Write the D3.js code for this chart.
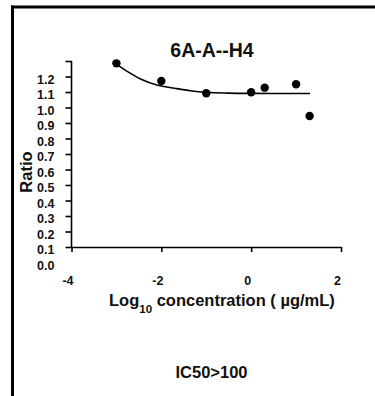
<!DOCTYPE html>
<html>
<head>
<meta charset="utf-8">
<script src="https://cdn.jsdelivr.net/npm/d3@7"></script>
<style>
  html, body { margin: 0; padding: 0; background: #fff; }
  svg { display: block; font-family: "Liberation Sans", Arial, sans-serif; }
</style>
</head>
<body>
<div id="chart"></div>
<script>
// measured points (log10 conc vs ratio)
const logConc = [-3, -2, -1, 0, 0.301, 1, 1.301];
const ratio = [1.285, 1.171, 1.092, 1.098, 1.128, 1.150, 0.945];

// fitted curve
const fitX = [-3.0, -2.75, -2.45, -2.1, -1.7, -1.35, -1.0, -0.5, 0, 0.5, 1.0, 1.31];
const fitY = [1.28, 1.231, 1.182, 1.145, 1.124, 1.108, 1.098, 1.093, 1.091, 1.090, 1.090, 1.090];

const xTicks = [-4, -2, 0, 2];
const yTicks = [0.0, 0.1, 0.2, 0.3, 0.4, 0.5, 0.6, 0.7, 0.8, 0.9, 1.0, 1.1, 1.2, 1.3];

const chartTitle = "6A-A--H4";
const note = "IC50>100";

const width = 375, height = 396;

const svg = d3.select('#chart')
  .append('svg')
  .attr('width', width)
  .attr('height', height);

// frame lines (top + left)
svg.append('line')
  .attr('x1', 11).attr('x2', width).attr('y1', 7).attr('y2', 7)
  .attr('stroke', '#000').attr('stroke-width', 3);
svg.append('line')
  .attr('x1', 12.5).attr('x2', 12.5).attr('y1', 5.5).attr('y2', height)
  .attr('stroke', '#000').attr('stroke-width', 3);

const x = d3.scaleLinear()
  .domain([-4, 2])
  .range([71.5, 341]);

const y = d3.scaleLinear()
  .domain([0.1, 1.3])
  .range([247, 61]);

const ink = '#111';

// y axis
const yAxis = svg.append('g')
  .attr('transform', `translate(${x(-4)},0)`)
  .call(d3.axisLeft(y)
    .tickValues(yTicks)
    .tickSize(6)
    .tickSizeOuter(0)
    .tickPadding(11)
    .tickFormat(d => d > 1.25 ? '' : d3.format('.1f')(d)));

yAxis.select('.domain').attr('d', `M0,${y(1.3)}V${y(0.1)}`);
yAxis.selectAll('.tick').filter(d => d < 0.05).select('line').remove();
yAxis.selectAll('.tick text')
  .attr('dy', '0.55em')
  .attr('font-size', '12.5px')
  .attr('font-weight', 'bold')
  .attr('fill', ink);

// x axis
const xAxis = svg.append('g')
  .attr('transform', `translate(0,${y(0.1)})`)
  .call(d3.axisBottom(x)
    .tickValues(xTicks)
    .tickSize(5)
    .tickSizeOuter(0)
    .tickPadding(24)
    .tickFormat(d => String(d)));

xAxis.selectAll('.tick text')
  .attr('dx', '-4')
  .attr('font-size', '12.5px')
  .attr('font-weight', 'bold')
  .attr('fill', ink);

svg.selectAll('.domain, .tick line')
  .attr('stroke', '#000')
  .attr('stroke-width', 1.6);

// fitted curve
const fit = fitX.map((v, i) => [v, fitY[i]]);
svg.append('path')
  .datum(fit)
  .attr('fill', 'none')
  .attr('stroke', '#000')
  .attr('stroke-width', 1.6)
  .attr('d', d3.line()
    .x(d => x(d[0]))
    .y(d => y(d[1]))
    .curve(d3.curveMonotoneX));

// data points
svg.selectAll('.dot')
  .data(logConc.map((v, i) => [v, ratio[i]]))
  .enter()
  .append('circle')
  .attr('class', 'dot')
  .attr('cx', d => x(d[0]))
  .attr('cy', d => y(d[1]))
  .attr('r', 4.2)
  .attr('fill', '#000');

// title
svg.append('text')
  .attr('x', 212)
  .attr('y', 57)
  .attr('text-anchor', 'middle')
  .attr('font-size', '19.5px')
  .attr('font-weight', 'bold')
  .attr('fill', ink)
  .text(chartTitle);

// y axis title
svg.append('text')
  .attr('transform', 'translate(32,172) rotate(-90)')
  .attr('text-anchor', 'middle')
  .attr('font-size', '16.5px')
  .attr('font-weight', 'bold')
  .attr('fill', ink)
  .text('Ratio');

// x axis title with subscript
const xt = svg.append('text')
  .attr('x', 109)
  .attr('y', 306)
  .attr('font-size', '16.5px')
  .attr('font-weight', 'bold')
  .attr('fill', ink);
xt.append('tspan').text('Log');
xt.append('tspan').attr('dy', 7).attr('font-size', '11.5px').text('10');
xt.append('tspan').attr('dy', -7).text(' concentration ( µg/mL)');

// note
svg.append('text')
  .attr('x', 211.5)
  .attr('y', 378)
  .attr('text-anchor', 'middle')
  .attr('font-size', '16.5px')
  .attr('font-weight', 'bold')
  .attr('fill', ink)
  .text(note);
</script>
</body>
</html>
